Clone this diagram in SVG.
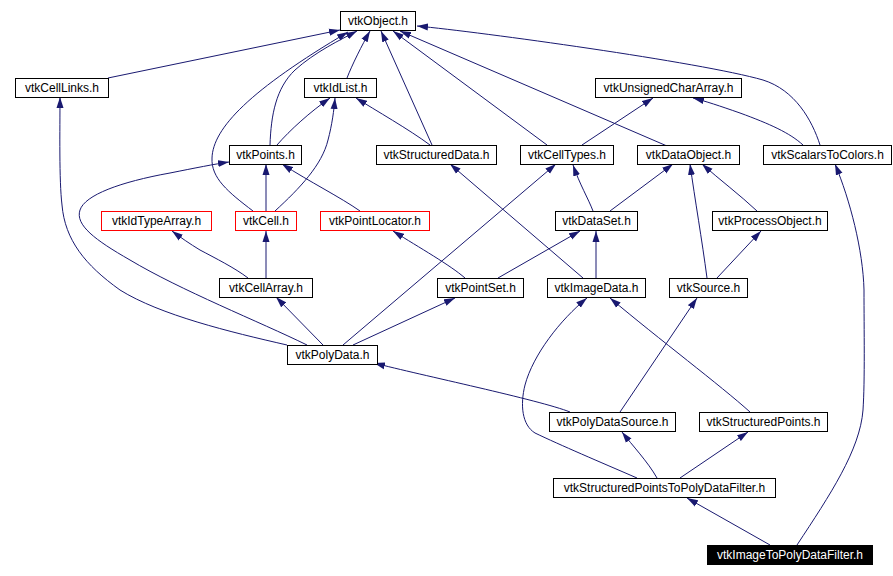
<svg xmlns="http://www.w3.org/2000/svg" width="893" height="576" viewBox="0 0 893 576">
<style>
.n rect{fill:#fff;stroke:#000;stroke-width:1}
.n.r rect{stroke:#f00}
.n.k rect{fill:#000}
.n text{font-family:"Liberation Sans",Arial,sans-serif;font-size:12px;text-anchor:middle;fill:#000}
.n.k text{fill:#fff}
#edges path{fill:none;stroke:#191970;stroke-width:1;marker-end:url(#a)}
</style>
<defs>
<marker id="a" markerWidth="12" markerHeight="8" refX="11" refY="4" orient="auto" markerUnits="userSpaceOnUse">
<path d="M0,0.5 L11,4 L0,7.5 z" fill="#191970"/>
</marker>
</defs>
<rect width="893" height="576" fill="#fff"/>
<g id="edges">
<path d="M108,78 L340,30"/>
<path d="M347,78 C352,65 362,45 370,31"/>
<path d="M270,145 C271,115 276,88 295,70 C315,52 340,40 357,31"/>
<path d="M253,211 C228,192 211,178 212,158 C213,128 250,90 348,32"/>
<path d="M432,145 L381,31"/>
<path d="M547,145 L393,31"/>
<path d="M667,146 L400,31"/>
<path d="M820,145 C812,120 795,90 763,80 C700,62 480,32 417,26"/>
<path d="M277,145 C290,130 310,112 330,98"/>
<path d="M275,211 C300,188 322,165 328,140 C332,125 334,110 335,98"/>
<path d="M430,145 C410,130 375,110 356,98"/>
<path d="M582,145 L653,98"/>
<path d="M803,145 C790,133 770,124 740,113 C720,106 705,101 693,98"/>
<path d="M266,211 L266,164"/>
<path d="M360,211 C340,197 310,182 282,164"/>
<path d="M307,345 C260,322 180,290 130,260 C95,240 75,225 80,210 C85,195 120,182 170,173 C195,168 215,164 229,162"/>
<path d="M287,345 C230,332 160,315 120,290 C85,265 65,240 62,205 C59,180 60,130 60,97"/>
<path d="M248,278 C235,268 215,258 200,250 C190,244 180,237 172,231"/>
<path d="M266,278 L266,231"/>
<path d="M323,345 L276,297"/>
<path d="M343,345 L556,164"/>
<path d="M353,345 L455,298"/>
<path d="M465,278 C450,265 420,248 393,231"/>
<path d="M498,278 L580,231"/>
<path d="M583,278 L450,164"/>
<path d="M596,278 L596,231"/>
<path d="M593,211 C588,198 580,185 573,165"/>
<path d="M610,211 L673,164"/>
<path d="M707,278 C702,240 695,200 690,164"/>
<path d="M717,278 L761,231"/>
<path d="M757,211 C740,195 720,180 702,164"/>
<path d="M570,412 C540,400 420,375 374,363"/>
<path d="M620,412 L697,298"/>
<path d="M750,412 C720,385 660,340 610,298"/>
<path d="M637,478 C600,462 560,445 535,433 C522,425 520,405 525,385 C533,355 560,320 587,298"/>
<path d="M657,478 C648,462 632,445 622,432"/>
<path d="M680,478 L748,432"/>
<path d="M770,545 L687,498"/>
<path d="M797,545 C830,495 860,450 863,410 C865,380 864,330 864,290 C863,250 850,200 835,164"/>
</g>
<g id="vtkObject" class="n"><rect x="340.5" y="11.5" width="75" height="19"/><text x="378" y="25">vtkObject.h</text></g>
<g id="vtkCellLinks" class="n"><rect x="15.5" y="78.5" width="93" height="19"/><text x="62" y="92">vtkCellLinks.h</text></g>
<g id="vtkIdList" class="n"><rect x="304.5" y="78.5" width="72" height="19"/><text x="340.5" y="92">vtkIdList.h</text></g>
<g id="vtkUnsignedCharArray" class="n"><rect x="595.5" y="78.5" width="146" height="19"/><text x="668.5" y="92">vtkUnsignedCharArray.h</text></g>
<g id="vtkPoints" class="n"><rect x="229.5" y="145.5" width="72" height="19"/><text x="265.5" y="159">vtkPoints.h</text></g>
<g id="vtkStructuredData" class="n"><rect x="376.5" y="145.5" width="120" height="19"/><text x="436.5" y="159">vtkStructuredData.h</text></g>
<g id="vtkCellTypes" class="n"><rect x="520.5" y="145.5" width="93" height="19"/><text x="567" y="159">vtkCellTypes.h</text></g>
<g id="vtkDataObject" class="n"><rect x="637.5" y="145.5" width="102" height="19"/><text x="688.5" y="159">vtkDataObject.h</text></g>
<g id="vtkScalarsToColors" class="n"><rect x="763.5" y="145.5" width="128" height="19"/><text x="827.5" y="159">vtkScalarsToColors.h</text></g>
<g id="vtkIdTypeArray" class="n r"><rect x="101.5" y="211.5" width="110" height="19"/><text x="156.5" y="225">vtkIdTypeArray.h</text></g>
<g id="vtkCell" class="n r"><rect x="235.5" y="211.5" width="61" height="19"/><text x="266" y="225">vtkCell.h</text></g>
<g id="vtkPointLocator" class="n r"><rect x="320.5" y="211.5" width="109" height="19"/><text x="375" y="225">vtkPointLocator.h</text></g>
<g id="vtkDataSet" class="n"><rect x="555.5" y="211.5" width="82" height="19"/><text x="596.5" y="225">vtkDataSet.h</text></g>
<g id="vtkProcessObject" class="n"><rect x="712.5" y="211.5" width="115" height="19"/><text x="770" y="225">vtkProcessObject.h</text></g>
<g id="vtkCellArray" class="n"><rect x="219.5" y="278.5" width="93" height="19"/><text x="266" y="292">vtkCellArray.h</text></g>
<g id="vtkPointSet" class="n"><rect x="437.5" y="278.5" width="86" height="19"/><text x="480.5" y="292">vtkPointSet.h</text></g>
<g id="vtkImageData" class="n"><rect x="547.5" y="278.5" width="98" height="19"/><text x="596.5" y="292">vtkImageData.h</text></g>
<g id="vtkSource" class="n"><rect x="669.5" y="278.5" width="78" height="19"/><text x="708.5" y="292">vtkSource.h</text></g>
<g id="vtkPolyData" class="n"><rect x="287.5" y="345.5" width="90" height="19"/><text x="332.5" y="359">vtkPolyData.h</text></g>
<g id="vtkPolyDataSource" class="n"><rect x="549.5" y="412.5" width="126" height="19"/><text x="612.5" y="426">vtkPolyDataSource.h</text></g>
<g id="vtkStructuredPoints" class="n"><rect x="699.5" y="412.5" width="128" height="19"/><text x="763.5" y="426">vtkStructuredPoints.h</text></g>
<g id="vtkStructuredPointsToPolyDataFilter" class="n"><rect x="553.5" y="478.5" width="222" height="19"/><text x="664.5" y="492">vtkStructuredPointsToPolyDataFilter.h</text></g>
<g id="vtkImageToPolyDataFilter" class="n k"><rect x="707.5" y="545.5" width="165" height="19"/><text x="790" y="559">vtkImageToPolyDataFilter.h</text></g>
</svg>
